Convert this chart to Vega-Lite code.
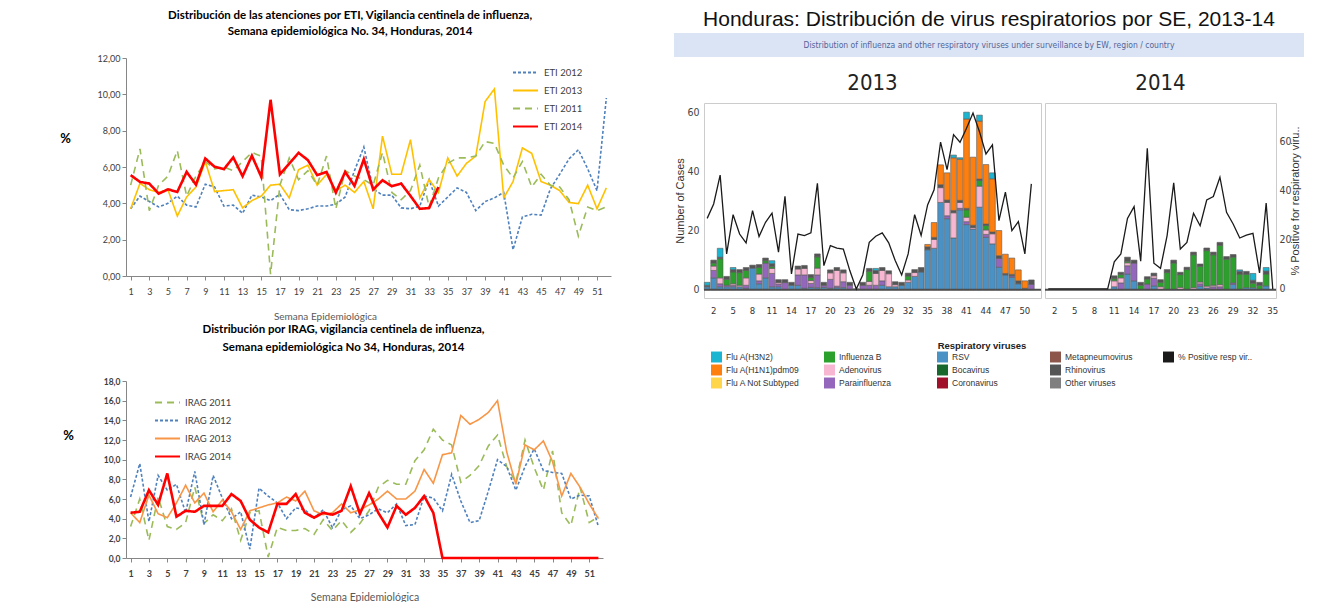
{
  "$schema": "https://vega.github.io/schema/vega-lite/v6.json",
  "background": "white",
  "padding": {"left": 59, "top": 0, "right": 0, "bottom": 0},
  "config": {"axis": {"grid": false}},
  "resolve": {"scale": {"color": "independent", "strokeDash": "independent"}, "legend": {"color": "independent", "strokeDash": "independent"}},
  "datasets": {
    "eti": [
      {"w":1,"ETI 2011":5.0,"ETI 2012":3.7,"ETI 2013":3.7,"ETI 2014":5.55},
      {"w":2,"ETI 2011":7.0,"ETI 2012":4.4,"ETI 2013":5.1,"ETI 2014":5.18},
      {"w":3,"ETI 2011":3.6,"ETI 2012":4.1,"ETI 2013":4.75,"ETI 2014":5.09},
      {"w":4,"ETI 2011":5.0,"ETI 2012":3.8,"ETI 2013":4.6,"ETI 2014":4.53},
      {"w":5,"ETI 2011":5.5,"ETI 2012":4.0,"ETI 2013":4.75,"ETI 2014":4.77},
      {"w":6,"ETI 2011":6.9,"ETI 2012":4.4,"ETI 2013":3.3,"ETI 2014":4.63},
      {"w":7,"ETI 2011":4.4,"ETI 2012":3.9,"ETI 2013":4.35,"ETI 2014":5.73},
      {"w":8,"ETI 2011":5.5,"ETI 2012":3.8,"ETI 2013":4.9,"ETI 2014":5.03},
      {"w":9,"ETI 2011":6.3,"ETI 2012":5.05,"ETI 2013":6.3,"ETI 2014":6.47},
      {"w":10,"ETI 2011":5.9,"ETI 2012":4.9,"ETI 2013":4.65,"ETI 2014":6.01},
      {"w":11,"ETI 2011":6.0,"ETI 2012":3.85,"ETI 2013":4.7,"ETI 2014":5.88},
      {"w":12,"ETI 2011":5.8,"ETI 2012":3.9,"ETI 2013":4.75,"ETI 2014":6.53},
      {"w":13,"ETI 2011":6.3,"ETI 2012":3.45,"ETI 2013":3.75,"ETI 2014":5.49},
      {"w":14,"ETI 2011":6.8,"ETI 2012":4.45,"ETI 2013":4.15,"ETI 2014":6.62},
      {"w":15,"ETI 2011":6.6,"ETI 2012":4.35,"ETI 2013":4.4,"ETI 2014":5.46},
      {"w":16,"ETI 2011":0.1,"ETI 2012":4.15,"ETI 2013":5.0,"ETI 2014":9.7},
      {"w":17,"ETI 2011":5.0,"ETI 2012":4.5,"ETI 2013":5.05,"ETI 2014":5.59},
      {"w":18,"ETI 2011":6.5,"ETI 2012":3.65,"ETI 2013":4.3,"ETI 2014":6.19},
      {"w":19,"ETI 2011":5.3,"ETI 2012":3.6,"ETI 2013":5.85,"ETI 2014":6.78},
      {"w":20,"ETI 2011":5.8,"ETI 2012":3.7,"ETI 2013":6.1,"ETI 2014":6.38},
      {"w":21,"ETI 2011":5.0,"ETI 2012":3.85,"ETI 2013":5.0,"ETI 2014":5.55},
      {"w":22,"ETI 2011":6.6,"ETI 2012":3.85,"ETI 2013":5.6,"ETI 2014":5.73},
      {"w":23,"ETI 2011":3.7,"ETI 2012":3.95,"ETI 2013":4.7,"ETI 2014":4.59},
      {"w":24,"ETI 2011":5.8,"ETI 2012":4.35,"ETI 2013":5.0,"ETI 2014":5.73},
      {"w":25,"ETI 2011":5.5,"ETI 2012":5.8,"ETI 2013":4.6,"ETI 2014":4.96},
      {"w":26,"ETI 2011":5.3,"ETI 2012":7.1,"ETI 2013":5.2,"ETI 2014":6.43},
      {"w":27,"ETI 2011":5.0,"ETI 2012":4.8,"ETI 2013":3.7,"ETI 2014":4.76},
      {"w":28,"ETI 2011":6.8,"ETI 2012":4.45,"ETI 2013":7.7,"ETI 2014":5.27},
      {"w":29,"ETI 2011":4.6,"ETI 2012":4.45,"ETI 2013":5.6,"ETI 2014":4.94},
      {"w":30,"ETI 2011":4.2,"ETI 2012":3.75,"ETI 2013":5.6,"ETI 2014":5.09},
      {"w":31,"ETI 2011":4.7,"ETI 2012":3.7,"ETI 2013":7.5,"ETI 2014":4.41},
      {"w":32,"ETI 2011":6.1,"ETI 2012":3.85,"ETI 2013":4.3,"ETI 2014":3.7},
      {"w":33,"ETI 2011":3.8,"ETI 2012":5.3,"ETI 2013":5.3,"ETI 2014":3.74},
      {"w":34,"ETI 2011":5.4,"ETI 2012":3.85,"ETI 2013":4.6,"ETI 2014":4.9},
      {"w":35,"ETI 2011":6.2,"ETI 2012":4.35,"ETI 2013":6.5},
      {"w":36,"ETI 2011":6.5,"ETI 2012":4.85,"ETI 2013":5.5},
      {"w":37,"ETI 2011":6.5,"ETI 2012":4.6,"ETI 2013":6.2},
      {"w":38,"ETI 2011":6.6,"ETI 2012":3.6,"ETI 2013":6.6},
      {"w":39,"ETI 2011":7.4,"ETI 2012":4.1,"ETI 2013":9.6},
      {"w":40,"ETI 2011":7.3,"ETI 2012":4.3,"ETI 2013":10.3},
      {"w":41,"ETI 2011":6.1,"ETI 2012":4.6,"ETI 2013":4.3},
      {"w":42,"ETI 2011":5.4,"ETI 2012":1.45,"ETI 2013":5.2},
      {"w":43,"ETI 2011":6.3,"ETI 2012":3.25,"ETI 2013":7.05},
      {"w":44,"ETI 2011":4.9,"ETI 2012":3.4,"ETI 2013":6.75},
      {"w":45,"ETI 2011":5.6,"ETI 2012":3.35,"ETI 2013":5.2},
      {"w":46,"ETI 2011":5.0,"ETI 2012":4.8,"ETI 2013":5.0},
      {"w":47,"ETI 2011":4.9,"ETI 2012":5.6,"ETI 2013":4.7},
      {"w":48,"ETI 2011":4.2,"ETI 2012":6.45,"ETI 2013":4.05},
      {"w":49,"ETI 2011":2.2,"ETI 2012":6.95,"ETI 2013":3.98},
      {"w":50,"ETI 2011":3.8,"ETI 2012":5.9,"ETI 2013":5.0},
      {"w":51,"ETI 2011":3.6,"ETI 2012":4.7,"ETI 2013":3.7},
      {"w":52,"ETI 2011":3.8,"ETI 2012":9.8,"ETI 2013":4.85}
    ],
    "irag": [
      {"w":1,"IRAG 2011":3.2,"IRAG 2012":6.2,"IRAG 2013":4.6,"IRAG 2014":4.6},
      {"w":2,"IRAG 2011":6.0,"IRAG 2012":9.6,"IRAG 2013":3.6,"IRAG 2014":4.7},
      {"w":3,"IRAG 2011":1.8,"IRAG 2012":3.7,"IRAG 2013":6.4,"IRAG 2014":6.9},
      {"w":4,"IRAG 2011":6.2,"IRAG 2012":8.4,"IRAG 2013":4.5,"IRAG 2014":5.4},
      {"w":5,"IRAG 2011":3.2,"IRAG 2012":6.9,"IRAG 2013":4.1,"IRAG 2014":8.6},
      {"w":6,"IRAG 2011":2.9,"IRAG 2012":7.5,"IRAG 2013":5.6,"IRAG 2014":4.2},
      {"w":7,"IRAG 2011":3.6,"IRAG 2012":4.6,"IRAG 2013":7.4,"IRAG 2014":4.8},
      {"w":8,"IRAG 2011":7.2,"IRAG 2012":8.8,"IRAG 2013":5.6,"IRAG 2014":4.7},
      {"w":9,"IRAG 2011":3.5,"IRAG 2012":3.4,"IRAG 2013":6.6,"IRAG 2014":5.3},
      {"w":10,"IRAG 2011":4.4,"IRAG 2012":8.4,"IRAG 2013":4.7,"IRAG 2014":5.3},
      {"w":11,"IRAG 2011":3.8,"IRAG 2012":6.1,"IRAG 2013":5.9,"IRAG 2014":5.3},
      {"w":12,"IRAG 2011":5.0,"IRAG 2012":4.0,"IRAG 2013":4.7,"IRAG 2014":6.5},
      {"w":13,"IRAG 2011":1.8,"IRAG 2012":4.7,"IRAG 2013":2.9,"IRAG 2014":5.8},
      {"w":14,"IRAG 2011":4.6,"IRAG 2012":0.9,"IRAG 2013":4.8,"IRAG 2014":3.9},
      {"w":15,"IRAG 2011":4.8,"IRAG 2012":7.1,"IRAG 2013":5.1,"IRAG 2014":3.1},
      {"w":16,"IRAG 2011":0.1,"IRAG 2012":6.3,"IRAG 2013":5.4,"IRAG 2014":2.6},
      {"w":17,"IRAG 2011":3.1,"IRAG 2012":5.6,"IRAG 2013":5.6,"IRAG 2014":5.5},
      {"w":18,"IRAG 2011":2.8,"IRAG 2012":4.0,"IRAG 2013":6.2,"IRAG 2014":5.5},
      {"w":19,"IRAG 2011":2.8,"IRAG 2012":5.1,"IRAG 2013":5.8,"IRAG 2014":6.5},
      {"w":20,"IRAG 2011":3.0,"IRAG 2012":4.9,"IRAG 2013":6.8,"IRAG 2014":4.6},
      {"w":21,"IRAG 2011":2.4,"IRAG 2012":4.1,"IRAG 2013":4.8,"IRAG 2014":4.1},
      {"w":22,"IRAG 2011":3.9,"IRAG 2012":4.9,"IRAG 2013":4.4,"IRAG 2014":4.6},
      {"w":23,"IRAG 2011":2.8,"IRAG 2012":3.1,"IRAG 2013":4.6,"IRAG 2014":4.4},
      {"w":24,"IRAG 2011":3.8,"IRAG 2012":4.9,"IRAG 2013":5.5,"IRAG 2014":4.8},
      {"w":25,"IRAG 2011":2.6,"IRAG 2012":5.3,"IRAG 2013":4.6,"IRAG 2014":7.3},
      {"w":26,"IRAG 2011":3.5,"IRAG 2012":4.0,"IRAG 2013":4.9,"IRAG 2014":4.5},
      {"w":27,"IRAG 2011":4.8,"IRAG 2012":4.4,"IRAG 2013":5.4,"IRAG 2014":6.6},
      {"w":28,"IRAG 2011":7.2,"IRAG 2012":5.0,"IRAG 2013":6.0,"IRAG 2014":4.6},
      {"w":29,"IRAG 2011":7.9,"IRAG 2012":4.6,"IRAG 2013":6.8,"IRAG 2014":3.1},
      {"w":30,"IRAG 2011":7.5,"IRAG 2012":5.5,"IRAG 2013":6.0,"IRAG 2014":5.3},
      {"w":31,"IRAG 2011":7.5,"IRAG 2012":3.3,"IRAG 2013":6.0,"IRAG 2014":4.4},
      {"w":32,"IRAG 2011":9.9,"IRAG 2012":3.4,"IRAG 2013":6.8,"IRAG 2014":5.1},
      {"w":33,"IRAG 2011":11.0,"IRAG 2012":6.3,"IRAG 2013":9.0,"IRAG 2014":6.3},
      {"w":34,"IRAG 2011":13.1,"IRAG 2012":6.1,"IRAG 2013":7.6,"IRAG 2014":4.6},
      {"w":35,"IRAG 2011":12.0,"IRAG 2012":4.8,"IRAG 2013":10.5,"IRAG 2014":0},
      {"w":36,"IRAG 2011":11.5,"IRAG 2012":8.5,"IRAG 2013":10.7,"IRAG 2014":0},
      {"w":37,"IRAG 2011":7.7,"IRAG 2012":5.8,"IRAG 2013":14.5,"IRAG 2014":0},
      {"w":38,"IRAG 2011":8.4,"IRAG 2012":3.6,"IRAG 2013":13.6,"IRAG 2014":0},
      {"w":39,"IRAG 2011":9.4,"IRAG 2012":3.8,"IRAG 2013":14.1,"IRAG 2014":0},
      {"w":40,"IRAG 2011":11.4,"IRAG 2012":6.8,"IRAG 2013":14.8,"IRAG 2014":0},
      {"w":41,"IRAG 2011":12.5,"IRAG 2012":10.0,"IRAG 2013":16.0,"IRAG 2014":0},
      {"w":42,"IRAG 2011":9.3,"IRAG 2012":9.3,"IRAG 2013":10.8,"IRAG 2014":0},
      {"w":43,"IRAG 2011":7.7,"IRAG 2012":6.9,"IRAG 2013":7.5,"IRAG 2014":0},
      {"w":44,"IRAG 2011":12.0,"IRAG 2012":9.3,"IRAG 2013":11.5,"IRAG 2014":0},
      {"w":45,"IRAG 2011":9.2,"IRAG 2012":11.1,"IRAG 2013":11.0,"IRAG 2014":0},
      {"w":46,"IRAG 2011":6.9,"IRAG 2012":8.9,"IRAG 2013":11.9,"IRAG 2014":0},
      {"w":47,"IRAG 2011":10.9,"IRAG 2012":8.7,"IRAG 2013":9.8,"IRAG 2014":0},
      {"w":48,"IRAG 2011":4.6,"IRAG 2012":8.6,"IRAG 2013":6.3,"IRAG 2014":0},
      {"w":49,"IRAG 2011":3.3,"IRAG 2012":6.0,"IRAG 2013":8.6,"IRAG 2014":0},
      {"w":50,"IRAG 2011":7.2,"IRAG 2012":6.4,"IRAG 2013":7.2,"IRAG 2014":0},
      {"w":51,"IRAG 2011":3.6,"IRAG 2012":6.3,"IRAG 2013":5.5,"IRAG 2014":0},
      {"w":52,"IRAG 2011":4.2,"IRAG 2012":3.2,"IRAG 2013":4.0,"IRAG 2014":0}
    ],
    "y13": [
      {"wk":1,"pct":28.8,"RSV":1,"Rhinovirus":0.5,"Flu A(H3N2)":1},
      {"wk":2,"pct":34.7,"RSV":4,"Parainfluenza":2.5,"Adenovirus":1.5,"Influenza B":1,"Rhinovirus":1},
      {"wk":3,"pct":46.5,"RSV":1,"Parainfluenza":1,"Adenovirus":2,"Influenza B":6.5,"Rhinovirus":0.5,"Flu A(H3N2)":3},
      {"wk":4,"pct":14.3,"RSV":1,"Parainfluenza":0.5,"Influenza B":2,"Rhinovirus":1},
      {"wk":5,"pct":30.3,"RSV":1,"Parainfluenza":0.5,"Adenovirus":0.5,"Influenza B":4,"Rhinovirus":0.8,"Flu A(H3N2)":0.7},
      {"wk":6,"pct":22.4,"RSV":1,"Adenovirus":0.5,"Influenza B":4.3,"Rhinovirus":1},
      {"wk":7,"pct":18.8,"RSV":0.5,"Parainfluenza":1,"Adenovirus":2.5,"Influenza B":2.5,"Rhinovirus":1},
      {"wk":8,"pct":32,"RSV":7.3,"Rhinovirus":1},
      {"wk":9,"pct":21.4,"RSV":2,"Parainfluenza":1,"Adenovirus":2.3,"Influenza B":2.2,"Rhinovirus":1},
      {"wk":10,"pct":27.2,"RSV":4,"Parainfluenza":5,"Influenza B":0.8,"Rhinovirus":0.9},
      {"wk":11,"pct":30.9,"RSV":1,"Parainfluenza":4.5,"Adenovirus":1.7,"Influenza B":0.6,"Rhinovirus":1,"Flu A(H3N2)":1},
      {"wk":12,"pct":15,"RSV":1,"Parainfluenza":0.9,"Adenovirus":0.5,"Rhinovirus":1},
      {"wk":13,"pct":37.8,"Parainfluenza":2.4,"Rhinovirus":1},
      {"wk":14,"pct":6.1,"RSV":1.5,"Rhinovirus":1},
      {"wk":15,"pct":22.4,"RSV":1.5,"Parainfluenza":3.5,"Adenovirus":2,"Rhinovirus":1},
      {"wk":16,"pct":21.8,"RSV":0.5,"Parainfluenza":4.5,"Adenovirus":2.2,"Rhinovirus":1},
      {"wk":17,"pct":22.9,"RSV":0.8,"Parainfluenza":1.3,"Adenovirus":1,"Influenza B":1,"Rhinovirus":1},
      {"wk":18,"pct":43.1,"RSV":0.7,"Parainfluenza":4.3,"Adenovirus":2.3,"Influenza B":3.8,"Rhinovirus":1},
      {"wk":19,"pct":9.5,"RSV":0.8,"Parainfluenza":0.7,"Rhinovirus":1},
      {"wk":20,"pct":17.7,"RSV":0.5,"Parainfluenza":3,"Adenovirus":2.2,"Rhinovirus":1},
      {"wk":21,"pct":16.7,"RSV":0.7,"Parainfluenza":0.5,"Adenovirus":5.3,"Rhinovirus":1},
      {"wk":22,"pct":16.3,"RSV":0.7,"Parainfluenza":2,"Adenovirus":3,"Rhinovirus":1},
      {"wk":23,"pct":7.5,"Parainfluenza":1.5,"Rhinovirus":1},
      {"wk":24,"pct":0,"Rhinovirus":0.3},
      {"wk":25,"pct":5.7,"Parainfluenza":1.5,"Rhinovirus":1},
      {"wk":26,"pct":19,"Parainfluenza":1.5,"Adenovirus":1.3,"Influenza B":3.4,"Rhinovirus":1},
      {"wk":27,"pct":21.5,"Parainfluenza":1.5,"Adenovirus":4,"Rhinovirus":1,"Flu A(H3N2)":0.7},
      {"wk":28,"pct":22.9,"RSV":1.5,"Parainfluenza":1.5,"Adenovirus":3.5,"Rhinovirus":1},
      {"wk":29,"pct":18.8,"RSV":1,"Adenovirus":4.4,"Rhinovirus":1},
      {"wk":30,"pct":11.6,"RSV":1,"Adenovirus":0.7,"Rhinovirus":1},
      {"wk":31,"pct":5.7,"RSV":1.5,"Rhinovirus":1},
      {"wk":32,"pct":14.3,"RSV":2.5,"Adenovirus":0.8,"Influenza B":1.3,"Rhinovirus":1},
      {"wk":33,"pct":30.3,"RSV":4.5,"Adenovirus":1.3,"Rhinovirus":1},
      {"wk":34,"pct":21.8,"RSV":6,"Rhinovirus":1.5},
      {"wk":35,"pct":34.3,"RSV":13.5,"Rhinovirus":1,"Flu A(H1N1)pdm09":0.8},
      {"wk":36,"pct":40.5,"RSV":14,"Adenovirus":3,"Rhinovirus":0.7,"Flu A(H1N1)pdm09":5},
      {"wk":37,"pct":59.9,"RSV":29.5,"Adenovirus":5,"Rhinovirus":1,"Flu A(H1N1)pdm09":6.7},
      {"wk":38,"pct":48.7,"RSV":24,"Parainfluenza":1,"Adenovirus":4.5,"Rhinovirus":0.8,"Flu A(H1N1)pdm09":9.2},
      {"wk":39,"pct":63,"RSV":17.5,"Adenovirus":8.5,"Rhinovirus":0.8,"Flu A(H1N1)pdm09":17.8,"Flu A(H3N2)":0.9},
      {"wk":40,"pct":59.9,"RSV":27,"Parainfluenza":0.5,"Adenovirus":2,"Rhinovirus":0.7,"Flu A(H1N1)pdm09":13.9,"Flu A(H3N2)":0.5},
      {"wk":41,"pct":65.6,"RSV":22,"Parainfluenza":1,"Adenovirus":1.5,"Influenza B":2.5,"Rhinovirus":0.5,"Flu A(H1N1)pdm09":30.2,"Flu A(H3N2)":2.3},
      {"wk":42,"pct":71.8,"RSV":20.5,"Adenovirus":0.5,"Rhinovirus":0.8,"Flu A(H1N1)pdm09":23},
      {"wk":43,"pct":64.2,"RSV":27.9,"Adenovirus":7.1,"Influenza B":1.9,"Rhinovirus":0.5,"Flu A(H1N1)pdm09":19.6,"Flu A(H3N2)":2},
      {"wk":44,"pct":55.1,"RSV":17.7,"Parainfluenza":1,"Adenovirus":1.5,"Influenza B":1.5,"Rhinovirus":0.5,"Flu A(H1N1)pdm09":20.1},
      {"wk":45,"pct":58.8,"RSV":15.5,"Adenovirus":3.4,"Rhinovirus":0.6,"Flu A(H1N1)pdm09":18,"Flu A(H3N2)":2},
      {"wk":46,"pct":27.9,"RSV":7.6,"Parainfluenza":3,"Rhinovirus":0.9,"Flu A(H1N1)pdm09":8.5},
      {"wk":47,"pct":39.5,"RSV":5,"Rhinovirus":0.5,"Flu A(H1N1)pdm09":6.5},
      {"wk":48,"pct":23.8,"RSV":4.2,"Parainfluenza":0.5,"Rhinovirus":0.5,"Flu A(H1N1)pdm09":5.5},
      {"wk":49,"pct":27.5,"RSV":2,"Rhinovirus":1,"Flu A(H1N1)pdm09":3.7},
      {"wk":50,"pct":14.3,"Rhinovirus":0.5,"Flu A(H1N1)pdm09":2.5},
      {"wk":51,"pct":42.9,"Parainfluenza":1.8,"Rhinovirus":1.5},
      {"wk":52}
    ],
    "y14": [
      {"wk":1,"pct":0},{"wk":2,"pct":0},{"wk":3,"pct":0},{"wk":4,"pct":0},{"wk":5,"pct":0},
      {"wk":6,"pct":0},{"wk":7,"pct":0},{"wk":8,"pct":0},{"wk":9,"pct":0},{"wk":10,"pct":0},
      {"wk":11,"pct":11.1,"RSV":1,"Adenovirus":2,"Influenza B":0.7,"Rhinovirus":1},
      {"wk":12,"pct":14.3,"Parainfluenza":2.3,"Adenovirus":1.7,"Influenza B":1.1,"Rhinovirus":0.8},
      {"wk":13,"pct":28.8,"RSV":5.3,"Parainfluenza":2.8,"Adenovirus":1,"Influenza B":0.5,"Rhinovirus":1.4},
      {"wk":14,"pct":33.6,"RSV":3,"Parainfluenza":6,"Rhinovirus":1},
      {"wk":15,"pct":11.3,"Influenza B":1.5,"Rhinovirus":1},
      {"wk":16,"pct":57.4,"Parainfluenza":1.9,"Influenza B":1.7,"Rhinovirus":0.8},
      {"wk":17,"pct":10.5,"RSV":1.3,"Parainfluenza":2.6,"Adenovirus":0.8,"Rhinovirus":0.9},
      {"wk":18,"pct":8.4,"Adenovirus":1,"Influenza B":1.5,"Rhinovirus":0.9},
      {"wk":19,"pct":21.8,"Influenza B":5.8,"Rhinovirus":1},
      {"wk":20,"pct":43.3,"Influenza B":9,"Rhinovirus":1},
      {"wk":21,"pct":16.3,"Adenovirus":0.8,"Influenza B":4.3,"Rhinovirus":0.8},
      {"wk":22,"pct":19.0,"Influenza B":6.8,"Rhinovirus":0.8},
      {"wk":23,"pct":30.9,"Adenovirus":0.7,"Influenza B":11.1,"Rhinovirus":0.9},
      {"wk":24,"pct":25.8,"RSV":1.2,"Parainfluenza":0.8,"Adenovirus":0.6,"Influenza B":5.3,"Rhinovirus":0.8},
      {"wk":25,"pct":36.3,"RSV":0.6,"Adenovirus":0.6,"Influenza B":12,"Rhinovirus":0.9},
      {"wk":26,"pct":37.7,"Parainfluenza":1,"Adenovirus":0.5,"Influenza B":10.3,"Rhinovirus":0.9},
      {"wk":27,"pct":45.6,"Parainfluenza":1,"Adenovirus":0.7,"Influenza B":13.3,"Rhinovirus":1},
      {"wk":28,"pct":31.3,"Influenza B":10.3,"Rhinovirus":0.9},
      {"wk":29,"pct":26.5,"RSV":1.8,"Parainfluenza":0.5,"Influenza B":8.7,"Rhinovirus":0.9},
      {"wk":30,"pct":20.8,"Influenza B":5.3,"Rhinovirus":0.9,"Flu A(H3N2)":0.5},
      {"wk":31,"pct":22,"RSV":0.7,"Influenza B":4.5,"Rhinovirus":1},
      {"wk":32,"pct":22.7,"RSV":0.7,"Influenza B":1.5,"Rhinovirus":1,"Flu A(H3N2)":2.3},
      {"wk":33,"pct":6.5,"Influenza B":1.5,"Rhinovirus":1},
      {"wk":34,"pct":35.1,"RSV":1.3,"Influenza B":4,"Rhinovirus":1,"Flu A(H3N2)":1.2},
      {"wk":35,"pct":0}
    ]
  },
  "hconcat": [
    {
      "spacing": 2,
      "resolve": {"scale": {"color": "independent", "strokeDash": "independent"}, "legend": {"color": "independent", "strokeDash": "independent"}},
      "vconcat": [
        {
          "width": 485, "height": 52,
          "view": {"stroke": null},
          "data": {"values": [{}]},
          "mark": {"type": "text", "font": "Lato", "fontSize": 11.5, "fontWeight": "bold", "color": "#000000", "lineHeight": 16, "baseline": "middle", "align": "center"},
          "encoding": {
            "text": {"value": ["Distribución de las atenciones por ETI, Vigilancia centinela de influenza,", "Semana epidemiológica No. 34, Honduras, 2014"]},
            "x": {"datum": 0.462, "type": "quantitative", "scale": {"domain": [0, 1]}, "axis": null},
            "y": {"datum": 0.7, "type": "quantitative", "scale": {"domain": [0, 1]}, "axis": null}
          }
        },
        {
          "width": 485, "height": 218,
          "view": {"stroke": null},
          "data": {"name": "eti"},
          "transform": [{"fold": ["ETI 2012", "ETI 2013", "ETI 2011", "ETI 2014"], "as": ["serie", "val"]}, {"filter": "isValid(datum.val)"}],
          "mark": {"type": "line"},
          "encoding": {
            "x": {"field": "w", "type": "quantitative", "scale": {"domain": [0.5, 52.5], "nice": false, "zero": false},
              "axis": {"values": [1,3,5,7,9,11,13,15,17,19,21,23,25,27,29,31,33,35,37,39,41,43,45,47,49,51], "title": "Semana Epidemiológica", "titleFont": "Lato", "titleFontSize": 10, "titleFontWeight": "normal", "titleColor": "#595959", "titleX": 199, "titlePadding": 15, "labelFont": "Lato", "labelFontSize": 9, "labelColor": "#404040", "labelPadding": 7, "tickSize": 4, "tickColor": "#868686", "domainColor": "#868686", "labelFlush": false, "labelOverlap": false}},
            "y": {"field": "val", "type": "quantitative", "scale": {"domain": [0, 12], "nice": false},
              "axis": {"values": [0,2,4,6,8,10,12], "labelExpr": "replace(format(datum.value, '.2f'), '.', ',')", "title": "%", "titleAngle": 0, "titleX": -61, "titleY": 80, "titleAlign": "center", "titleBaseline": "middle", "titleFont": "Lato", "titleFontSize": 13, "titleFontWeight": "bold", "titleColor": "#000000", "labelFont": "Lato", "labelFontSize": 9, "labelColor": "#404040", "tickSize": 4, "tickColor": "#868686", "domainColor": "#868686"}},
            "color": {"field": "serie", "type": "nominal", "scale": {"domain": ["ETI 2012", "ETI 2013", "ETI 2011", "ETI 2014"], "range": ["#4f81bd", "#ffc000", "#9bbb59", "#ff0000"]},
              "legend": {"title": null, "orient": "none", "legendX": 386, "legendY": 1, "symbolType": "stroke", "symbolSize": 625, "symbolStrokeWidth": 2, "labelFont": "Lato", "labelFontSize": 9.5, "labelColor": "#404040", "rowPadding": 0, "labelOffset": 5}},
            "strokeDash": {"field": "serie", "type": "nominal", "scale": {"domain": ["ETI 2012", "ETI 2013", "ETI 2011", "ETI 2014"], "range": [[3, 2], [1, 0], [7, 5], [1, 0]]},
              "legend": {"title": null, "orient": "none", "legendX": 386, "legendY": 1, "symbolType": "stroke", "symbolSize": 625, "symbolStrokeWidth": 2, "labelFont": "Lato", "labelFontSize": 9.5, "labelColor": "#404040", "rowPadding": 0, "labelOffset": 5}},
            "strokeWidth": {"condition": {"test": "datum.serie == 'ETI 2014'", "value": 2.6}, "value": 1.6}
          }
        },
        {
          "width": 477, "height": 177,
          "view": {"stroke": null},
          "title": {"text": ["Distribución  por IRAG, vigilancia centinela de influenza,", "Semana epidemiológica No 34, Honduras, 2014"], "font": "Lato", "fontSize": 11.5, "fontWeight": "bold", "color": "#000000", "anchor": "middle", "frame": "group", "offset": 24, "lineHeight": 18, "dx": -21},
          "data": {"name": "irag"},
          "transform": [{"fold": ["IRAG 2011", "IRAG 2012", "IRAG 2013", "IRAG 2014"], "as": ["serie", "val"]}, {"filter": "isValid(datum.val)"}],
          "mark": {"type": "line"},
          "encoding": {
            "x": {"field": "w", "type": "quantitative", "scale": {"domain": [0.5, 52.5], "nice": false, "zero": false},
              "axis": {"values": [1,3,5,7,9,11,13,15,17,19,21,23,25,27,29,31,33,35,37,39,41,43,45,47,49,51], "title": "Semana Epidemiológica", "titleFont": "Lato", "titleFontSize": 10.5, "titleFontWeight": "normal", "titleColor": "#595959", "titlePadding": 14, "labelFont": "Lato", "labelFontSize": 9, "labelFontWeight": "bold", "labelColor": "#404040", "labelPadding": 7, "tickSize": 4, "tickColor": "#868686", "domainColor": "#868686", "labelFlush": false, "labelOverlap": false}},
            "y": {"field": "val", "type": "quantitative", "scale": {"domain": [0, 18], "nice": false},
              "axis": {"values": [0,2,4,6,8,10,12,14,16,18], "labelExpr": "replace(format(datum.value, '.1f'), '.', ',')", "title": "%", "titleAngle": 0, "titleX": -58, "titleY": 54, "titleAlign": "center", "titleBaseline": "middle", "titleFont": "Lato", "titleFontSize": 13, "titleFontWeight": "bold", "titleColor": "#000000", "labelFont": "Lato", "labelFontSize": 8.5, "labelFontWeight": "bold", "labelColor": "#404040", "tickSize": 4, "tickColor": "#868686", "domainColor": "#868686"}},
            "color": {"field": "serie", "type": "nominal", "scale": {"domain": ["IRAG 2011", "IRAG 2012", "IRAG 2013", "IRAG 2014"], "range": ["#9bbb59", "#4f81bd", "#f79646", "#ff0000"]},
              "legend": {"title": null, "orient": "none", "legendX": 28, "legendY": 8, "symbolType": "stroke", "symbolSize": 625, "symbolStrokeWidth": 2, "labelFont": "Lato", "labelFontSize": 9.5, "labelColor": "#404040", "rowPadding": -4, "labelOffset": 4}},
            "strokeDash": {"field": "serie", "type": "nominal", "scale": {"domain": ["IRAG 2011", "IRAG 2012", "IRAG 2013", "IRAG 2014"], "range": [[7, 5], [3, 2], [1, 0], [1, 0]]},
              "legend": {"title": null, "orient": "none", "legendX": 28, "legendY": 8, "symbolType": "stroke", "symbolSize": 625, "symbolStrokeWidth": 2, "labelFont": "Lato", "labelFontSize": 9.5, "labelColor": "#404040", "rowPadding": -4, "labelOffset": 4}},
            "strokeWidth": {"condition": {"test": "datum.serie == 'IRAG 2014'", "value": 2.6}, "value": 1.6}
          }
        }
      ]
    },
    {
      "spacing": 11,
      "vconcat": [
        {
          "width": 600, "height": 60,
          "view": {"stroke": null},
          "layer": [
            {
              "data": {"values": [{}]},
              "mark": {"type": "rect", "color": "#dbe4f5"},
              "encoding": {
                "x": {"datum": -0.05, "type": "quantitative", "scale": {"domain": [0, 1]}, "axis": null},
                "x2": {"datum": 1},
                "y": {"datum": 0.05, "type": "quantitative", "scale": {"domain": [0, 1]}, "axis": null},
                "y2": {"datum": 0.45}
              }
            },
            {
              "data": {"values": [{}]},
              "mark": {"type": "text", "font": "DejaVu Sans Condensed, Liberation Sans, sans-serif", "fontSize": 8.5, "color": "#52659a", "baseline": "middle", "align": "center"},
              "encoding": {
                "text": {"value": "Distribution of influenza and other respiratory viruses under surveillance by EW, region / country"},
                "x": {"datum": 0.475, "type": "quantitative"},
                "y": {"datum": 0.25, "type": "quantitative"}
              }
            },
            {
              "data": {"values": [{}]},
              "mark": {"type": "text", "font": "Liberation Sans", "fontSize": 21, "color": "#111111", "baseline": "middle", "align": "center"},
              "encoding": {
                "text": {"value": "Honduras: Distribución de virus respiratorios por SE, 2013-14"},
                "x": {"datum": 0.475, "type": "quantitative"},
                "y": {"datum": 0.667, "type": "quantitative"}
              }
            }
          ]
        },
        {
          "spacing": 0,
          "resolve": {"scale": {"color": "shared"}, "legend": {"color": "shared"}},
          "hconcat": [
            {
              "width": 337, "height": 195,
              "view": {"stroke": "#cccccc"},
              "title": {"text": "2013", "font": "DejaVu Sans Condensed, Liberation Sans, sans-serif", "fontSize": 22, "fontWeight": "normal", "color": "#222222", "anchor": "middle", "frame": "group", "offset": 8},
              "data": {"name": "y13"},
              "layer": [
                {
                  "transform": [
                    {"fold": ["RSV", "Parainfluenza", "Adenovirus", "Influenza B", "Rhinovirus", "Flu A(H1N1)pdm09", "Flu A(H3N2)"], "as": ["virus", "n"]},
                    {"filter": "datum.n > 0"},
                    {"calculate": "indexof(['RSV','Parainfluenza','Adenovirus','Influenza B','Rhinovirus','Flu A(H1N1)pdm09','Flu A(H3N2)'], datum.virus)", "as": "ord"}
                  ],
                  "mark": {"type": "bar", "stroke": "#5a5a5a", "strokeWidth": 0.6},
                  "encoding": {
                    "x": {"field": "wk", "type": "ordinal", "scale": {"domain": [1,2,3,4,5,6,7,8,9,10,11,12,13,14,15,16,17,18,19,20,21,22,23,24,25,26,27,28,29,30,31,32,33,34,35,36,37,38,39,40,41,42,43,44,45,46,47,48,49,50,51,52], "paddingInner": 0.12, "paddingOuter": 0.05},
                      "axis": {"values": [2,5,8,11,14,17,20,23,26,29,32,35,38,41,44,47,50], "title": null, "labelAngle": 0, "ticks": false, "domain": false, "labelFont": "DejaVu Sans Condensed, Liberation Sans, sans-serif", "labelFontSize": 9.5, "labelColor": "#333333", "labelPadding": 7}},
                    "y": {"field": "n", "type": "quantitative", "stack": "zero", "scale": {"domain": [-2.8, 63.1], "nice": false, "zero": false},
                      "axis": {"orient": "left", "values": [0, 20, 40, 60], "title": "Number of Cases", "titleFont": "Liberation Sans", "titleFontSize": 11, "titleFontWeight": "normal", "titleColor": "#333333", "titlePadding": 1, "labelFont": "DejaVu Sans Condensed, Liberation Sans, sans-serif", "labelFontSize": 10.5, "labelColor": "#444444", "labelPadding": 5, "ticks": false, "domain": false}},
                    "color": {"field": "virus", "type": "nominal",
                      "scale": {"domain": ["Flu A(H3N2)", "Flu A(H1N1)pdm09", "Flu A Not Subtyped", "Influenza B", "Adenovirus", "Parainfluenza", "RSV", "Bocavirus", "Coronavirus", "Metapneumovirus", "Rhinovirus", "Other viruses", "% Positive resp vir..", " ", "  "],
                        "range": ["#1cb5d1", "#ff7f0e", "#ffd54a", "#2ca02c", "#f7b6d2", "#9467bd", "#4a92c6", "#18672c", "#a0102a", "#8c564b", "#555555", "#7f7f7f", "#1a1a1a", "transparent", "transparent"]},
                      "legend": {"title": "Respiratory viruses", "orient": "none", "legendX": 7, "legendY": 341, "columns": 5, "symbolType": "square", "symbolSize": 120, "symbolStrokeWidth": 0, "titleFont": "Liberation Sans", "titleFontSize": 9.5, "titleFontWeight": "bold", "titleColor": "#222222", "titleAnchor": "middle", "titlePadding": 1, "labelFont": "Liberation Sans", "labelFontSize": 8.5, "labelColor": "#333333", "columnPadding": 23, "rowPadding": 2, "gridAlign": "all", "labelLimit": 150}},
                    "order": {"field": "ord", "type": "quantitative"}
                  }
                },
                {
                  "data": {"values": [{}]},
                  "mark": {"type": "rule", "color": "#4d4d4d", "strokeWidth": 2},
                  "encoding": {"y": {"datum": 0, "type": "quantitative", "scale": {"domain": [-2.8, 63.1], "nice": false, "zero": false}, "axis": null}}
                },
                {
                  "transform": [{"filter": "isValid(datum.pct)"}],
                  "mark": {"type": "line", "strokeWidth": 1.3},
                  "encoding": {
                    "x": {"field": "wk", "type": "ordinal"},
                    "y": {"field": "pct", "type": "quantitative", "scale": {"domain": [-3.7, 75.9], "nice": false, "zero": false}, "axis": null},
                    "color": {"datum": "% Positive resp vir.."}
                  }
                }
              ],
              "resolve": {"scale": {"y": "independent"}}
            },
            {
              "width": 231, "height": 195,
              "view": {"stroke": "#cccccc"},
              "title": {"text": "2014", "font": "DejaVu Sans Condensed, Liberation Sans, sans-serif", "fontSize": 22, "fontWeight": "normal", "color": "#222222", "anchor": "middle", "frame": "group", "offset": 8},
              "data": {"name": "y14"},
              "layer": [
                {
                  "transform": [
                    {"fold": ["RSV", "Parainfluenza", "Adenovirus", "Influenza B", "Rhinovirus", "Flu A(H1N1)pdm09", "Flu A(H3N2)"], "as": ["virus", "n"]},
                    {"filter": "datum.n > 0"},
                    {"calculate": "indexof(['RSV','Parainfluenza','Adenovirus','Influenza B','Rhinovirus','Flu A(H1N1)pdm09','Flu A(H3N2)'], datum.virus)", "as": "ord"}
                  ],
                  "mark": {"type": "bar", "stroke": "#5a5a5a", "strokeWidth": 0.6},
                  "encoding": {
                    "x": {"field": "wk", "type": "ordinal", "scale": {"domain": [1,2,3,4,5,6,7,8,9,10,11,12,13,14,15,16,17,18,19,20,21,22,23,24,25,26,27,28,29,30,31,32,33,34,35], "paddingInner": 0.12, "paddingOuter": 0.05},
                      "axis": {"values": [2,5,8,11,14,17,20,23,26,29,32,35], "title": null, "labelAngle": 0, "ticks": false, "domain": false, "labelFont": "DejaVu Sans Condensed, Liberation Sans, sans-serif", "labelFontSize": 9.5, "labelColor": "#333333", "labelPadding": 7}},
                    "y": {"field": "n", "type": "quantitative", "stack": "zero", "scale": {"domain": [-2.8, 63.1], "nice": false, "zero": false}, "axis": null},
                    "color": {"field": "virus", "type": "nominal",
                      "scale": {"domain": ["Flu A(H3N2)", "Flu A(H1N1)pdm09", "Flu A Not Subtyped", "Influenza B", "Adenovirus", "Parainfluenza", "RSV", "Bocavirus", "Coronavirus", "Metapneumovirus", "Rhinovirus", "Other viruses", "% Positive resp vir..", " ", "  "],
                        "range": ["#1cb5d1", "#ff7f0e", "#ffd54a", "#2ca02c", "#f7b6d2", "#9467bd", "#4a92c6", "#18672c", "#a0102a", "#8c564b", "#555555", "#7f7f7f", "#1a1a1a", "transparent", "transparent"]},
                      "legend": {"title": "Respiratory viruses", "orient": "none", "legendX": 7, "legendY": 341, "columns": 5, "symbolType": "square", "symbolSize": 120, "symbolStrokeWidth": 0, "titleFont": "Liberation Sans", "titleFontSize": 9.5, "titleFontWeight": "bold", "titleColor": "#222222", "titleAnchor": "middle", "titlePadding": 1, "labelFont": "Liberation Sans", "labelFontSize": 8.5, "labelColor": "#333333", "columnPadding": 23, "rowPadding": 2, "gridAlign": "all", "labelLimit": 150}},
                    "order": {"field": "ord", "type": "quantitative"}
                  }
                },
                {
                  "data": {"values": [{}]},
                  "mark": {"type": "rule", "color": "#4d4d4d", "strokeWidth": 2},
                  "encoding": {"y": {"datum": 0, "type": "quantitative", "scale": {"domain": [-2.8, 63.1], "nice": false, "zero": false}, "axis": null}}
                },
                {
                  "transform": [{"filter": "isValid(datum.pct)"}],
                  "mark": {"type": "line", "strokeWidth": 1.3},
                  "encoding": {
                    "x": {"field": "wk", "type": "ordinal"},
                    "y": {"field": "pct", "type": "quantitative", "scale": {"domain": [-3.7, 75.9], "nice": false, "zero": false},
                      "axis": {"orient": "right", "values": [0, 20, 40, 60], "title": "% Positive for respiratory viru..", "titleAngle": 270, "titleFont": "Liberation Sans", "titleFontSize": 11, "titleFontWeight": "normal", "titleColor": "#333333", "titlePadding": 9, "labelFont": "DejaVu Sans Condensed, Liberation Sans, sans-serif", "labelFontSize": 10.5, "labelColor": "#444444", "labelPadding": 3, "ticks": false, "domain": false}},
                    "color": {"datum": "% Positive resp vir.."}
                  }
                }
              ],
              "resolve": {"scale": {"y": "independent"}}
            }
          ]
        }
      ]
    }
  ],
  "spacing": 63
}
